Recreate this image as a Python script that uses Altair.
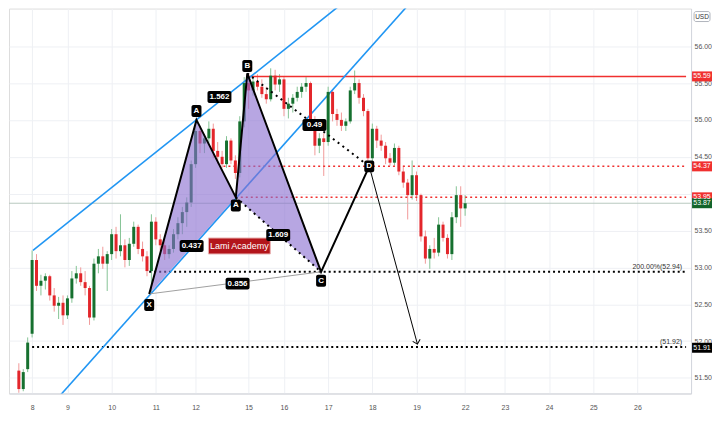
import altair as alt
import pandas as pd

# ---------------- data ----------------
bar_idx = list(range(-3, 99))
opens = [51.60, 51.35, 51.62, 52.10, 53.10, 52.75, 52.82, 52.88, 52.62, 52.48, 52.52, 52.35,
         52.58, 52.85, 52.92, 52.80, 52.72, 52.32, 53.05, 53.15, 53.05, 53.18, 53.45, 53.22,
         53.30, 53.10, 53.32, 53.55, 53.25, 53.15, 52.95, 53.62, 53.38, 53.30, 53.18, 53.25,
         53.45, 53.60, 53.75, 53.88, 54.40, 54.85, 54.68, 54.75, 54.88, 54.58, 54.50, 54.40,
         54.72, 54.45, 54.28, 54.98, 55.50, 55.40, 55.52, 55.45, 55.35, 55.28, 55.60, 55.48,
         55.55, 55.15, 55.22, 55.30, 55.38, 55.45, 55.50, 54.98, 54.65, 54.75, 54.70, 55.38,
         55.08, 55.00, 54.92, 54.98, 55.40, 55.50, 55.30, 55.12, 54.48, 54.88, 54.72, 54.65,
         54.48, 54.42, 54.62, 54.30, 54.15, 53.98, 54.25, 53.98, 53.42, 53.12, 53.25, 53.20,
         53.58, 53.40, 53.18, 53.68, 53.98, 53.80]
highs = [51.70, 51.62, 52.05, 53.23, 53.18, 52.90, 52.92, 52.90, 52.72, 52.60, 52.62, 52.62,
         52.95, 53.02, 53.00, 52.95, 52.75, 53.12, 53.25, 53.28, 53.22, 53.52, 53.55, 53.72,
         53.38, 53.40, 53.62, 53.58, 53.35, 53.22, 53.72, 53.68, 53.45, 53.38, 53.30, 53.52,
         53.68, 53.82, 53.95, 54.45, 55.01, 54.92, 54.80, 54.98, 54.95, 54.70, 54.58, 54.78,
         54.75, 54.52, 55.05, 55.58, 55.63, 55.60, 55.62, 55.55, 55.45, 55.70, 55.68, 55.62,
         55.58, 55.30, 55.35, 55.45, 55.50, 55.58, 55.52, 55.05, 54.82, 54.82, 55.45, 55.40,
         55.15, 55.10, 55.02, 55.45, 55.67, 55.55, 55.35, 55.15, 54.95, 54.92, 54.80, 54.70,
         54.55, 54.68, 54.65, 54.38, 54.20, 54.45, 54.30, 54.00, 53.50, 53.30, 53.40, 53.68,
         53.62, 53.45, 53.75, 54.10, 54.10, 53.98]
lows = [51.30, 51.32, 51.58, 52.05, 52.68, 52.62, 52.70, 52.55, 52.40, 52.30, 52.22, 52.30,
        52.52, 52.78, 52.75, 52.62, 52.22, 52.28, 52.92, 52.98, 52.68, 53.10, 53.12, 53.15,
        53.00, 53.02, 53.28, 53.18, 53.08, 52.88, 52.66, 53.30, 53.22, 53.10, 53.12, 53.20,
        53.38, 53.45, 53.55, 53.82, 54.35, 54.55, 54.55, 54.68, 54.48, 54.40, 54.35, 54.35,
        54.40, 54.20, 54.22, 54.90, 55.15, 55.33, 55.40, 55.30, 55.22, 55.25, 55.40, 55.38,
        55.05, 55.02, 55.10, 55.25, 55.30, 55.38, 54.90, 54.52, 54.55, 54.24, 54.65, 54.98,
        54.92, 54.85, 54.85, 54.95, 55.35, 55.22, 55.05, 54.40, 54.36, 54.62, 54.58, 54.40,
        54.38, 54.38, 54.25, 54.08, 53.65, 53.92, 53.90, 53.35, 53.05, 52.98, 53.12, 53.15,
        53.35, 53.12, 53.10, 53.60, 53.55, 53.70]
closes = [51.35, 51.58, 51.98, 53.10, 52.75, 52.82, 52.88, 52.62, 52.48, 52.52, 52.35, 52.58,
          52.85, 52.92, 52.80, 52.72, 52.32, 53.05, 53.15, 53.05, 53.18, 53.45, 53.22, 53.30,
          53.10, 53.32, 53.55, 53.25, 53.15, 52.95, 53.62, 53.38, 53.30, 53.18, 53.25, 53.45,
          53.60, 53.75, 53.88, 54.40, 54.85, 54.68, 54.75, 54.88, 54.58, 54.50, 54.40, 54.72,
          54.45, 54.28, 54.98, 55.50, 55.40, 55.52, 55.45, 55.35, 55.28, 55.60, 55.48, 55.55,
          55.15, 55.22, 55.30, 55.38, 55.45, 55.50, 54.98, 54.65, 54.75, 54.70, 55.38, 55.08,
          55.00, 54.92, 54.98, 55.40, 55.50, 55.30, 55.12, 54.48, 54.88, 54.72, 54.65, 54.48,
          54.42, 54.62, 54.30, 54.15, 53.98, 54.25, 53.98, 53.42, 53.12, 53.25, 53.20, 53.58,
          53.40, 53.18, 53.68, 53.98, 53.80, 53.87]

day_ticks = [0, 8, 18, 28, 37, 49, 57, 67, 77, 87, 98, 107, 117, 127, 137]
day_labels = ["8", "9", "10", "11", "12", "15", "16", "17", "18", "19", "22", "23", "24", "25", "26"]
price_ticks = [51.5, 52.0, 52.5, 53.0, 53.5, 54.0, 54.5, 55.0, 55.5, 56.0]

# harmonic pattern pivots (bar, price)
piv_names = ["X", "A", "A", "B", "C", "D"]
piv_bar = [26.5, 37.2, 46.1, 48.7, 65.4, 76.3]
piv_price = [52.64, 55.00, 53.95, 55.63, 52.94, 54.37]
piv_label_price = [52.49, 55.12, 53.84, 55.73, 52.82, 54.37]
arrow_end_bar, arrow_end_price = 87.2, 51.96

ratio_texts = ["1.562", "0.49", "0.437", "1.609", "0.856"]
ratio_bar = [42.4, 63.9, 36.1, 55.7, 46.5]
ratio_price = [55.31, 54.93, 53.29, 53.44, 52.78]

# channel (trend) lines
upper_bar = [0.2, 75.0]
upper_price = [53.23, 56.81]
lower_bar = [6.0, 85.0]
lower_price = [51.24, 56.55]

# horizontal levels
lvl_price = [55.59, 54.37, 53.95, 52.94, 51.92]
lvl_start = [48.7, 43.3, 46.1, 26.5, 0.0]
last_price = 53.87

tag_price = [55.59, 54.37, 53.95, 53.87, 51.91]
tag_text = ["55.59", "54.37", "53.95", "53.87", "51.91"]
tag_color = ["#f0302f", "#f0302f", "#f0302f", "#12642a", "#000000"]

X_DOMAIN = [-4.1, 148.0]
Y_DOMAIN = [51.29, 56.51]
W, H = 684, 386

# ---------------- frames ----------------
candles = pd.DataFrame({"b": bar_idx, "o": opens, "h": highs, "l": lows, "c": closes})

def lin(x, x0, y0, x1, y1):
    return y0 + (x - x0) * (y1 - y0) / (x1 - x0)

Xb, Ab, A2b, Bb, Cb, Db = piv_bar
Xp, Ap, A2p, Bp, Cp, Dp = piv_price
tri = pd.DataFrame({
    "t": [1, 1, 1, 2, 2, 2],
    "x": [Xb, Ab, A2b, A2b, Bb, Cb],
    "y": [Xp, Ap, A2p, A2p, Bp, Cp],
    "y2": [Xp, lin(Ab, Xb, Xp, A2b, A2p), A2p, A2p, lin(Bb, A2b, A2p, Cb, Cp), Cp],
})
path = pd.DataFrame({"x": piv_bar, "y": piv_price, "i": list(range(len(piv_bar)))})
dots = pd.DataFrame({"s": [1, 1, 2, 2], "x": [A2b, Cb, Bb, Db], "y": [A2p, Cp, Bp, Dp]})
xc = pd.DataFrame({"x": [Xb, Cb], "y": [Xp, Cp]})
arrow = pd.DataFrame({"x": [Db, arrow_end_bar], "y": [Dp, arrow_end_price]})
arrow_tip = pd.DataFrame({"x": [arrow_end_bar], "y": [arrow_end_price]})
chan = pd.DataFrame({"s": [1, 1, 2, 2], "x": upper_bar + lower_bar, "y": upper_price + lower_price})
lv = pd.DataFrame({"p": lvl_price, "x": lvl_start, "x2": [X_DOMAIN[1]] * len(lvl_price)})
piv_lbl = pd.DataFrame({"x": piv_bar, "y": piv_label_price, "t": piv_names})
rat_lbl = pd.DataFrame({"x": ratio_bar, "y": ratio_price, "t": ratio_texts})
tags = pd.DataFrame({"p": tag_price, "t": tag_text, "c": tag_color})

xs = alt.Scale(domain=X_DOMAIN, nice=False, zero=False)
ys = alt.Scale(domain=Y_DOMAIN, nice=False, zero=False)

x_expr = " : ".join(f"datum.value == {v} ? '{t}'" for v, t in zip(day_ticks, day_labels)) + " : ''"
x_axis = alt.Axis(values=day_ticks, labelExpr=x_expr, title=None, grid=True, gridColor="#eef0f4",
                  ticks=False, labelFontSize=7, labelColor="#555555", labelPadding=10,
                  domainColor="#d3d6de", labelFont="Liberation Sans")
y_axis = alt.Axis(orient="right", values=price_ticks, title=None, grid=True, gridColor="#eef0f4",
                  ticks=False, labelFontSize=7, labelColor="#555555", labelPadding=3,
                  domainColor="#d3d6de", labelFont="Liberation Sans",
                  labelExpr="datum.value == 54 ? '' : format(datum.value, '.2f')")

def XX(f="x"):
    return alt.X(f"{f}:Q", scale=xs, axis=x_axis)

def YY(f="y"):
    return alt.Y(f"{f}:Q", scale=ys, axis=y_axis)

up_c, dn_c = "#16702f", "#e3262b"
up_w, dn_w = "#86c496", "#f19a9a"
is_up = "datum.c >= datum.o"

wicks = alt.Chart(candles).mark_rule(strokeWidth=1).encode(
    x=XX("b"), y=YY("l"), y2="h:Q",
    color=alt.condition(is_up, alt.value(up_w), alt.value(dn_w)),
)
bodies = alt.Chart(candles).mark_bar(size=3).encode(
    x=XX("b"), y=YY("o"), y2="c:Q",
    color=alt.condition(is_up, alt.value(up_c), alt.value(dn_c)),
)

last_line = alt.Chart(pd.DataFrame({"p": [last_price]})).mark_rule(
    color="#b9c9bf", strokeWidth=1).encode(
    x=alt.value(0), x2=alt.value(W), y=YY("p"))

red_solid = alt.Chart(lv.iloc[[0]]).mark_rule(color="#f0302f", strokeWidth=1.5).encode(
    x=XX("x"), x2="x2:Q", y=YY("p"))
red_dot = alt.Chart(lv.iloc[[1, 2]]).mark_rule(color="#f0302f", strokeWidth=1.5,
                                              strokeDash=[2, 3]).encode(
    x=XX("x"), x2="x2:Q", y=YY("p"))
blk_dot = alt.Chart(lv.iloc[[3, 4]]).mark_rule(color="#000000", strokeWidth=2,
                                              strokeDash=[2, 3]).encode(
    x=XX("x"), x2="x2:Q", y=YY("p"))

channels = alt.Chart(chan).mark_line(color="#2196f3", strokeWidth=1.6, clip=True).encode(
    x=XX(), y=YY(), detail="s:N")

tri_layer = alt.Chart(tri).mark_area(color="#8a6fd0", opacity=0.62).encode(
    x=XX(), y=YY(), y2="y2:Q", detail="t:N")

xc_line = alt.Chart(xc).mark_line(color="#a0a0a0", strokeWidth=1).encode(x=XX(), y=YY())
dot_lines = alt.Chart(dots).mark_line(color="#000000", strokeWidth=2, strokeDash=[2, 4]).encode(
    x=XX(), y=YY(), detail="s:N")
path_line = alt.Chart(path).mark_line(color="#000000", strokeWidth=2).encode(
    x=XX(), y=YY(), order="i:Q")
arrow_line = alt.Chart(arrow).mark_line(color="#000000", strokeWidth=1).encode(x=XX(), y=YY())
arrow_head = alt.Chart(arrow_tip).mark_point(
    shape="M-1,-1L0,0L1,-1", size=60, filled=False, color="#000000", strokeWidth=1,
    angle=345, opacity=1).encode(x=XX(), y=YY())

piv_box = alt.Chart(piv_lbl).mark_rect(color="#000000", cornerRadius=2, xOffset=-5, x2Offset=5,
                                        yOffset=-6, y2Offset=6).encode(
    x=XX(), x2="x:Q", y=YY(), y2="y:Q")
piv_txt = alt.Chart(piv_lbl).mark_text(color="#ffffff", fontSize=8, fontWeight="bold",
                                        font="Liberation Sans").encode(
    x=XX(), y=YY(), text="t:N")
rat_box = alt.Chart(rat_lbl).mark_rect(color="#000000", cornerRadius=2, xOffset=-12, x2Offset=12,
                                        yOffset=-6, y2Offset=6).encode(
    x=XX(), x2="x:Q", y=YY(), y2="y:Q")
rat_txt = alt.Chart(rat_lbl).mark_text(color="#ffffff", fontSize=8, fontWeight="bold",
                                        font="Liberation Sans").encode(
    x=XX(), y=YY(), text="t:N")

brand = pd.DataFrame({"x": [46.9], "y": [53.29], "t": ["Lami Academy"]})
brand_box = alt.Chart(brand).mark_rect(color="#b3151b", stroke="#e8b0b0", strokeWidth=1,
                                        xOffset=-31, x2Offset=31, yOffset=-8, y2Offset=8).encode(
    x=XX(), x2="x:Q", y=YY(), y2="y:Q")
brand_txt = alt.Chart(brand).mark_text(color="#ffffff", fontSize=9, font="Liberation Sans").encode(
    x=XX(), y=YY(), text="t:N")

notes = pd.DataFrame({"x": [X_DOMAIN[1], X_DOMAIN[1]], "y": [52.94, 51.92],
                      "t": ["200.00%(52.94)", "(51.92)"]})
note_txt = alt.Chart(notes).mark_text(align="right", baseline="bottom", dx=-4, dy=-2,
                                       fontSize=7, color="#333333",
                                       font="Liberation Sans").encode(
    x=XX(), y=YY(), text="t:N")

tag_box = alt.Chart(tags).mark_rect(yOffset=-5, y2Offset=5).encode(
    x=alt.value(W + 1), x2=alt.value(W + 21), y=YY("p"), y2="p:Q",
    color=alt.Color("c:N", scale=None))
tag_txt = alt.Chart(tags).mark_text(color="#ffffff", fontSize=7, font="Liberation Sans").encode(
    x=alt.value(W + 11), y=YY("p"), text="t:N")

usd = pd.DataFrame({"t": ["USD"]})
usd_box = alt.Chart(usd).mark_rect(fill="#ffffff", stroke="#b0b4bc", strokeWidth=1,
                                   cornerRadius=2).encode(
    x=alt.value(W + 3), x2=alt.value(W + 19), y=alt.value(3), y2=alt.value(13))
usd_txt = alt.Chart(usd).mark_text(fontSize=6.5, color="#333333", font="Liberation Sans").encode(
    x=alt.value(W + 11), y=alt.value(8), text="t:N")

chart = alt.layer(
    wicks, last_line, red_solid, red_dot, blk_dot, channels, bodies, tri_layer,
    xc_line, dot_lines, path_line, arrow_line, arrow_head,
    brand_box, brand_txt, rat_box, rat_txt, piv_box, piv_txt, note_txt,
    tag_box, tag_txt, usd_box, usd_txt,
).properties(width=W, height=H, padding={"left": 0, "top": 0, "right": 0, "bottom": 0}
).configure_view(strokeWidth=0).configure(background="#ffffff")

chart.save("out.html", embed_options={"renderer": "svg", "actions": False})
